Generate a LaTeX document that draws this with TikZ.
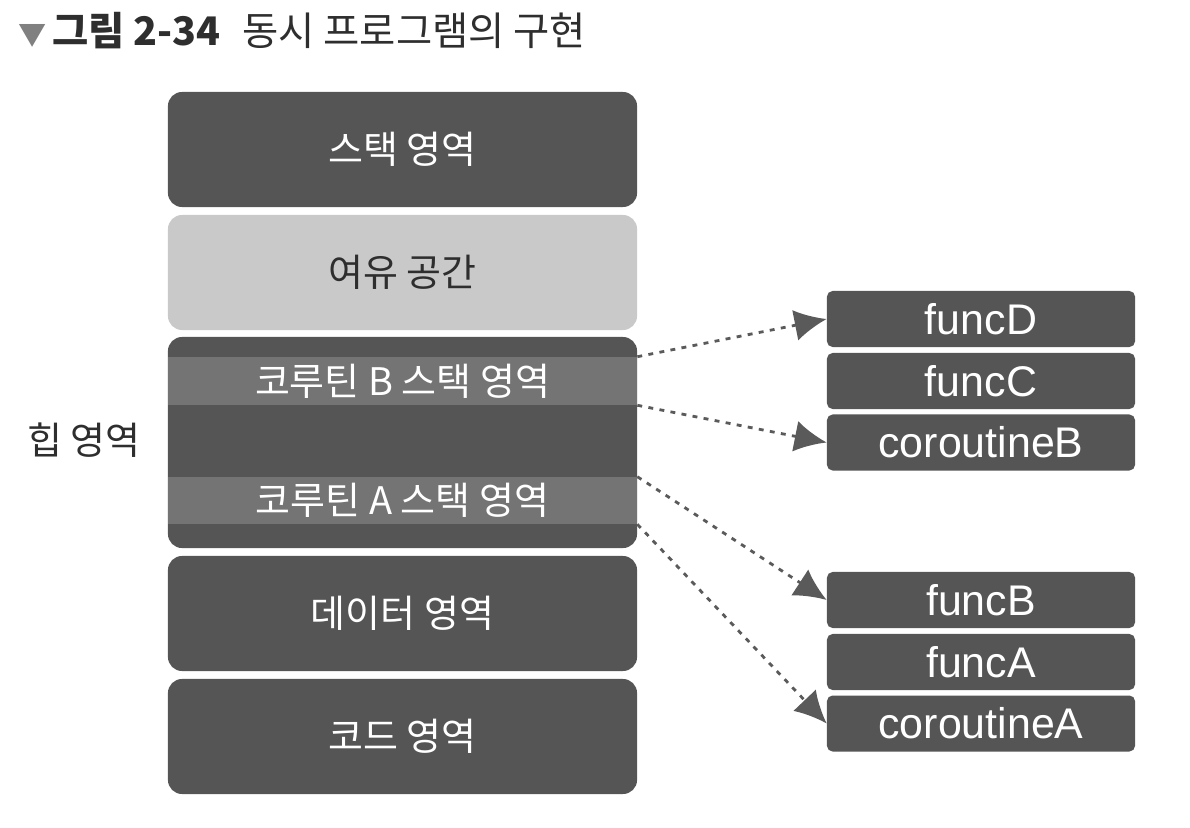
\documentclass[tikz,border=0pt]{standalone}
\usepackage{fontspec}
\setmainfont{Noto Sans CJK KR}
\newfontfamily\lat{Liberation Sans}
\usetikzlibrary{arrows.meta}
\definecolor{darkbox}{HTML}{555555}
\definecolor{bandc}{HTML}{747474}
\definecolor{lightbox}{HTML}{C9C9C9}
\definecolor{arrowc}{HTML}{5A5A5A}
\definecolor{txt}{HTML}{2E2E2E}
\tikzset{
  leftbox/.style={rectangle, rounded corners=10pt, fill=darkbox, minimum width=11.725cm, minimum height=2.875cm, text=white, font=\fontsize{27}{30}\selectfont, inner sep=0pt},
  band/.style={rectangle, fill=bandc, minimum width=11.725cm, text=white, font=\fontsize{27}{30}\selectfont, inner sep=0pt},
  rightbox/.style={rectangle, rounded corners=4pt, fill=darkbox, minimum width=7.7cm, minimum height=1.4cm, text=white, font=\lat\fontsize{30.5}{33}\selectfont, inner sep=0pt},
  link/.style={arrowc, line width=2pt, dash pattern=on 3.5pt off 4.5pt, -{Latex[length=0.8cm,width=0.78cm]}}
}
\begin{document}
\begin{tikzpicture}[x=0.025cm,y=-0.025cm]
\useasboundingbox (0,0) rectangle (1190,828);
% title
\node[anchor=base west, inner sep=0pt, text=txt, font=\fontsize{28}{32}\selectfont] (title) at (18,46)
  {{\color{gray}\fontsize{20}{24}\selectfont ▼}\hspace{0.15em}\textbf{그림 2-34}\hspace{0.55em}동시 프로그램의 구현};
% left column
\node[leftbox] (stack) at (402.5,149.5) {스택 영역};
\node[leftbox, fill=lightbox, text=txt] (free) at (402.5,272.5) {여유 공간};
\node[leftbox, minimum height=5.275cm] (heap) at (402.5,442.5) {};
\node[band, minimum height=1.2cm] (bandB) at (402.5,381) {코루틴 B 스택 영역};
\node[band, minimum height=1.175cm] (bandA) at (402.5,500.5) {코루틴 A 스택 영역};
\node[leftbox] (data) at (402.5,613.5) {데이터 영역};
\node[leftbox] (code) at (402.5,736.5) {코드 영역};
\node[text=txt, font=\fontsize{27}{30}\selectfont] (heaplabel) at (84,440) {힙 영역};
% right column
\node[rightbox] (funcD) at (981,319) {funcD};
\node[rightbox] (funcC) at (981,381) {funcC};
\node[rightbox] (coB) at (981,442.5) {coroutineB};
\node[rightbox] (funcB) at (981,600) {funcB};
\node[rightbox] (funcA) at (981,662) {funcA};
\node[rightbox] (coA) at (981,723.5) {coroutineA};
% connectors
\draw[link] (bandB.north east) -- (funcD.west);
\draw[link] (bandB.south east) -- (coB.west);
\draw[link] (bandA.north east) -- (funcB.west);
\draw[link] (bandA.south east) -- (coA.west);
\end{tikzpicture}
\end{document}
